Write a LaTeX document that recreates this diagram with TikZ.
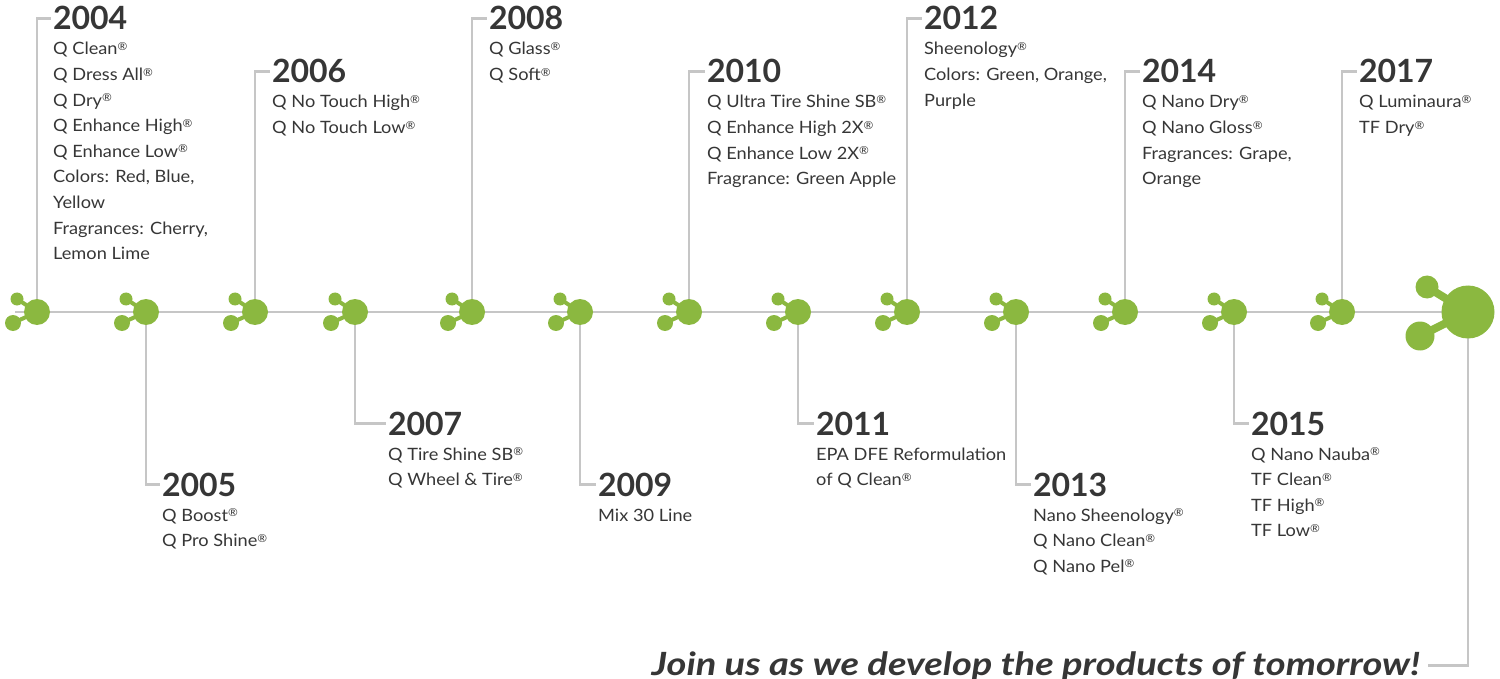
\documentclass[tikz,border=0pt]{standalone}
\usepackage{fontspec}
\setmainfont{Lato}
\newfontfamily\itemfont[FakeStretch=1.07]{Lato}
\newfontfamily\joinfont[FakeStretch=1.19]{Lato}
\definecolor{qgreen}{HTML}{8BB840}
\definecolor{qgray}{HTML}{C6C6C6}
\definecolor{qtext}{HTML}{363636}
\newcommand{\reg}{\raisebox{4.5pt}{\fontsize{11}{11}\selectfont ®}}
\newcommand{\tlentry}[5]{%
  \node[yearlbl] (y#1) at ({#2-2},#3) {#4};
  \foreach \t [count=\i] in {#5} {
    \node[itemlbl] (i#1-\i) at (#2,{#3+25+25.6*(\i-1)}) {\t};
  }%
}
\tikzset{
  yearlbl/.style={anchor=base west, inner sep=0pt, outer sep=2pt, text=qtext,
    font=\fontsize{32}{32}\selectfont\bfseries},
  itemlbl/.style={anchor=base west, inner sep=0pt, text=qtext,
    font=\itemfont\fontsize{17}{17}\selectfont},
  joinlbl/.style={anchor=base east, inner sep=0pt, outer sep=8pt, text=qtext,
    font=\joinfont\fontsize{32}{32}\selectfont\bfseries\itshape},
  conn/.style={draw=qgray, line width=2.6pt},
  bond/.style={draw=qgreen, line width=#1},
  atom/.style={circle, fill=qgreen, inner sep=0pt, minimum size=#1},
}
\begin{document}
\begin{tikzpicture}[x=1pt,y=-1pt]
\useasboundingbox (0,0) rectangle (1500,679);
% molecule centres
\foreach \n/\x in {2004/37,2005/146,2006/255,2007/355,2008/472,2009/580,2010/689,
                   2011/798,2012/907,2013/1016,2014/1125,2015/1234,2017/1342} {
  \coordinate (c\n) at (\x,312);
}
\coordinate (cfin) at (1468,312);
\coordinate (lstart) at (15,312);
% texts
\tlentry{2004}{53}{30}{2004}{Q Clean\reg, Q Dress All\reg, Q Dry\reg, Q Enhance High\reg, Q Enhance Low\reg, {Colors: Red, Blue,}, Yellow, {Fragrances: Cherry,}, Lemon Lime}
\tlentry{2006}{272}{83}{2006}{Q No Touch High\reg, Q No Touch Low\reg}
\tlentry{2008}{489}{30}{2008}{Q Glass\reg, Q Soft\reg}
\tlentry{2010}{707}{83}{2010}{Q Ultra Tire Shine SB\reg, Q Enhance High 2X\reg, Q Enhance Low 2X\reg, Fragrance: Green Apple}
\tlentry{2012}{924}{30}{2012}{Sheenology\reg, {Colors: Green, Orange,}, Purple}
\tlentry{2014}{1142}{83}{2014}{Q Nano Dry\reg, Q Nano Gloss\reg, {Fragrances: Grape,}, Orange}
\tlentry{2017}{1359}{83}{2017}{Q Luminaura\reg, TF Dry\reg}
\tlentry{2005}{162}{496}{2005}{Q Boost\reg, Q Pro Shine\reg}
\tlentry{2007}{388}{435}{2007}{Q Tire Shine SB\reg, Q Wheel \& Tire\reg}
\tlentry{2009}{598}{496}{2009}{Mix 30 Line}
\tlentry{2011}{816}{435}{2011}{EPA DFE Reformulation, of Q Clean\reg}
\tlentry{2013}{1033}{496}{2013}{Nano Sheenology\reg, Q Nano Clean\reg, Q Nano Pel\reg}
\tlentry{2015}{1251}{435}{2015}{Q Nano Nauba\reg, TF Clean\reg, TF High\reg, TF Low\reg}
\node[joinlbl] (join) at (1428,675) {Join us as we develop the products of tomorrow!};
% connectors
\draw[conn] (lstart) -- (cfin);
\foreach \n in {2004,2005,2006,2007,2008,2009,2010,2011,2012,2013,2014,2015,2017} {
  \draw[conn] (c\n) |- (y\n.west);
}
\draw[conn] (cfin) |- (join.east);
% molecules
\foreach \n in {2004,2005,2006,2007,2008,2009,2010,2011,2012,2013,2014,2015,2017} {
  \path (c\n) ++(-20,-13) coordinate (cu\n);
  \path (c\n) ++(-24,11) coordinate (cl\n);
  \draw[bond=4pt] (cu\n) -- (c\n) -- (cl\n);
  \node[atom=26pt] (m\n) at (c\n) {};
  \node[atom=13pt] (u\n) at (cu\n) {};
  \node[atom=16pt] (l\n) at (cl\n) {};
}
\path (cfin) ++(-41,-25) coordinate (cufin);
\path (cfin) ++(-48,24) coordinate (clfin);
\draw[bond=8pt] (cufin) -- (cfin) -- (clfin);
\node[atom=53pt] (mfin) at (cfin) {};
\node[atom=23pt] (ufin) at (cufin) {};
\node[atom=29pt] (lfin) at (clfin) {};
\end{tikzpicture}
\end{document}
